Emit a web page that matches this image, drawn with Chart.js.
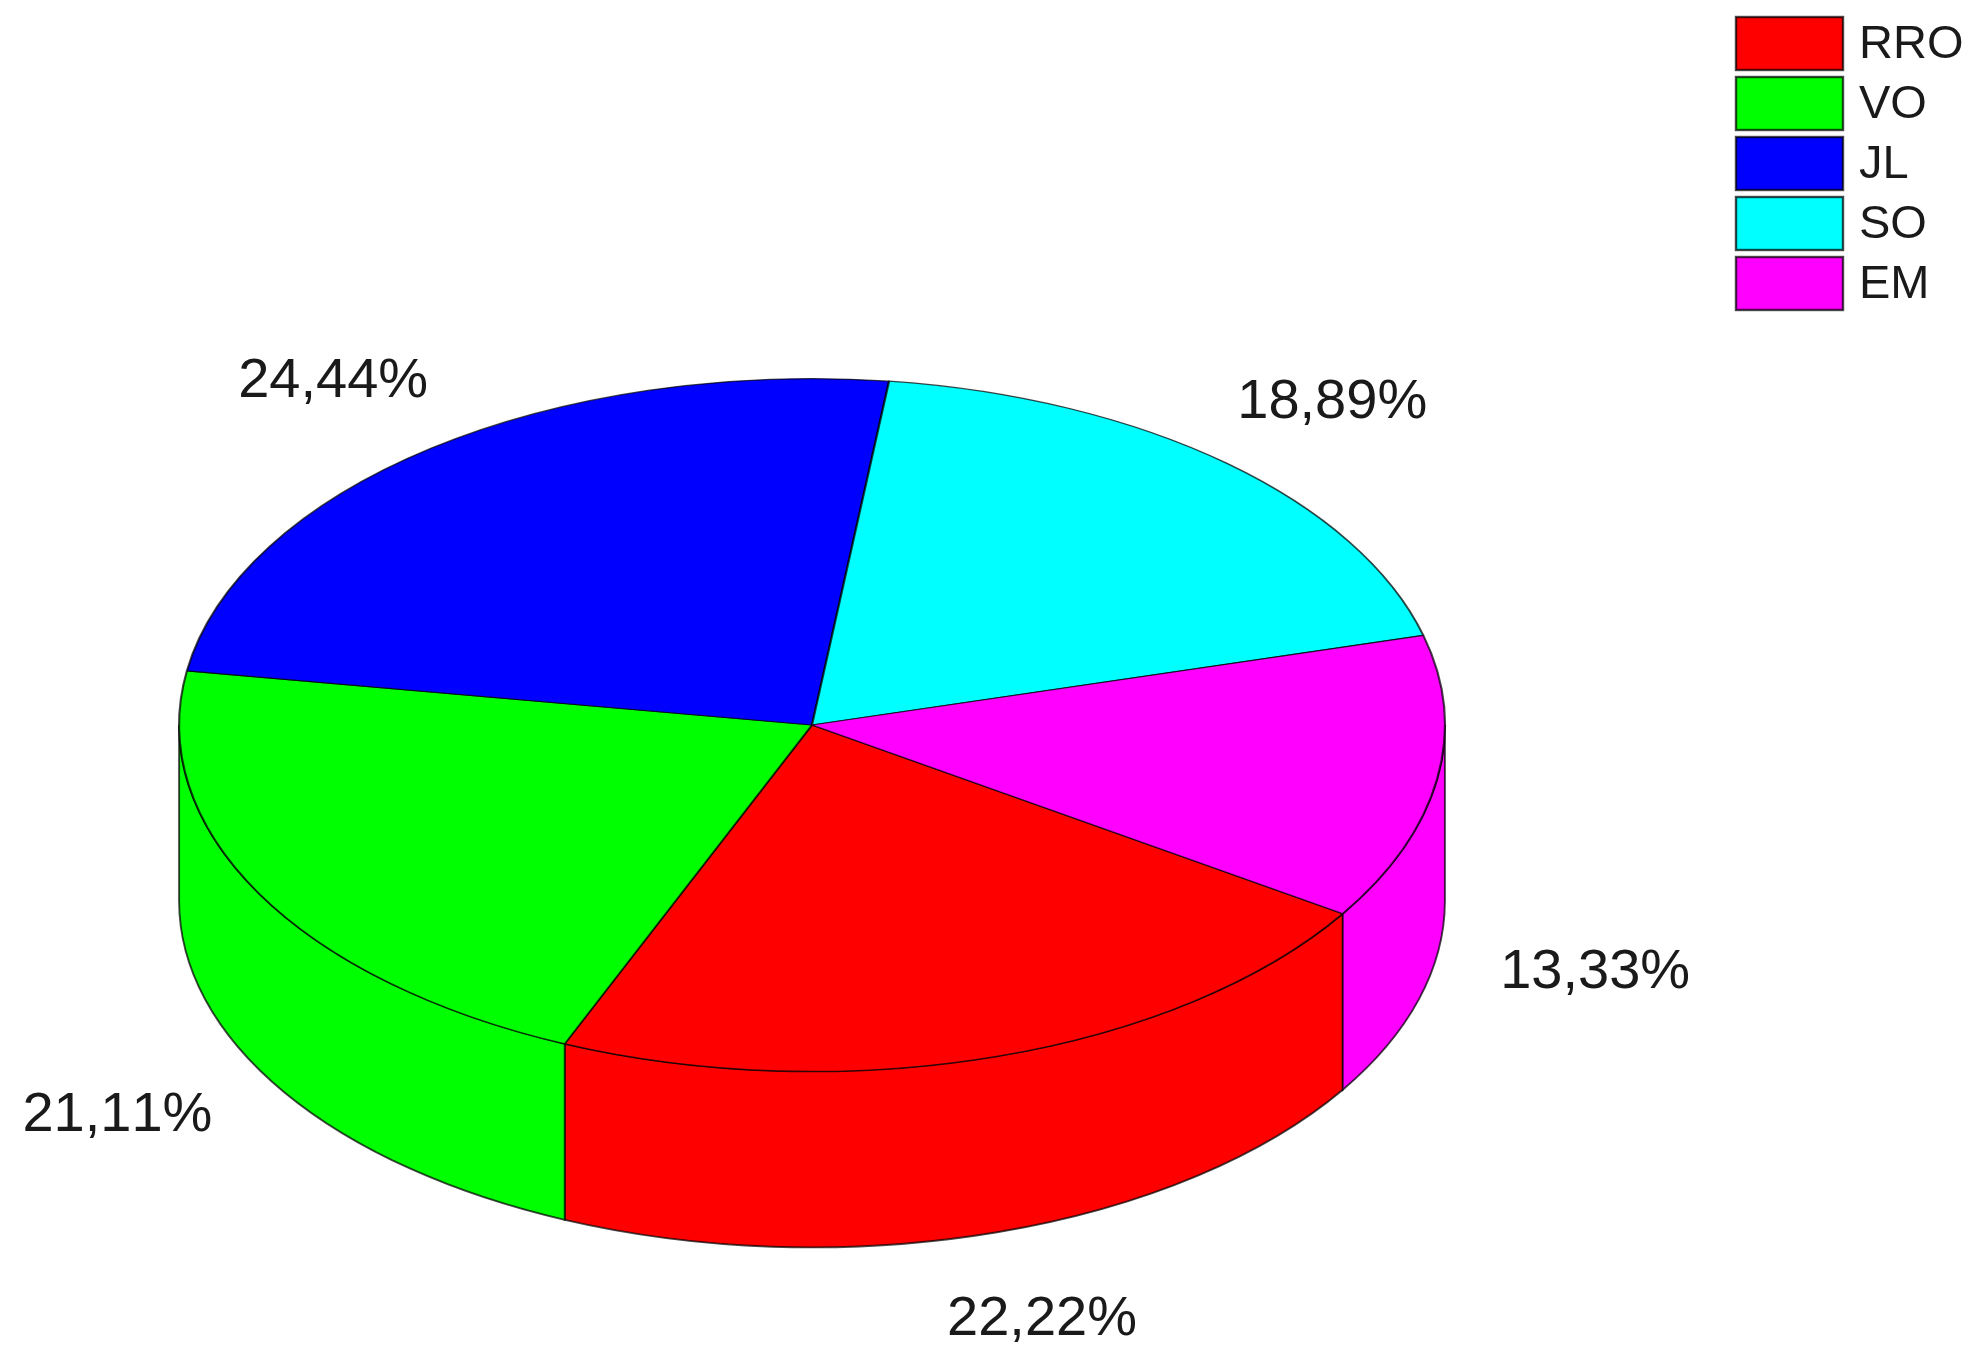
<!DOCTYPE html>
<html>
<head>
<meta charset="utf-8">
<style>
html,body{margin:0;padding:0;background:#fff;}
canvas{display:block;}
</style>
<script src="https://cdn.jsdelivr.net/npm/chart.js@4"></script>
</head>
<body>
<canvas id="c" width="1983" height="1362" style="width:1983px;height:1362px"></canvas>
<script>
const categories = ['RRO', 'VO', 'JL', 'SO', 'EM'];
const percentValues = [22.22, 21.11, 24.44, 18.89, 13.33];
const sliceColors = ['#ff0000', '#00ff00', '#0000ff', '#00ffff', '#ff00ff'];

const TILT = 347 / 634;
const DEPTH = 176;
const EDGE = 'rgba(0,0,0,0.72)';
const FONT = '"Liberation Sans", Arial, sans-serif';
const labelNudge = [[45, 263], [-141, 223], [-98, -67], [105, -61], [158, 193]];

const pie3d = {
  id: 'pie3d',
  beforeDatasetsDraw(chart) {
    const ctx = chart.ctx;
    const arcs = chart.getDatasetMeta(0).data;
    const { x: cx, y: cy, outerRadius: rx } = arcs[0];
    const ry = rx * TILT;
    ctx.save();
    ctx.lineWidth = 1.9;
    ctx.strokeStyle = EDGE;
    arcs.forEach((arc, i) => {
      [0, Math.PI * 2].forEach(base => {
        const a0 = Math.max(arc.startAngle, base);
        const a1 = Math.min(arc.endAngle, base + Math.PI);
        if (a1 <= a0) return;
        ctx.beginPath();
        ctx.ellipse(cx, cy + DEPTH, rx, ry, 0, a0, a1, false);
        ctx.ellipse(cx, cy, rx, ry, 0, a1, a0, true);
        ctx.closePath();
        ctx.fillStyle = sliceColors[i];
        ctx.fill();
        ctx.stroke();
      });
    });
    ctx.restore();
    // squash the library's own circular pie into the tilted top face
    ctx.save();
    ctx.translate(cx, cy);
    ctx.scale(1, TILT);
    ctx.translate(-cx, -cy);
  },
  afterDatasetsDraw(chart) {
    const ctx = chart.ctx;
    ctx.restore();
    const arcs = chart.getDatasetMeta(0).data;
    ctx.save();
    ctx.fillStyle = '#1a1a1a';
    ctx.textBaseline = 'middle';
    ctx.fontKerning = 'none';
    // value labels
    ctx.font = '56px ' + FONT;
    ctx.textAlign = 'center';
    arcs.forEach((arc, i) => {
      const mid = (arc.startAngle + arc.endAngle) / 2;
      const x = arc.x + arc.outerRadius * Math.cos(mid) + labelNudge[i][0];
      const y = arc.y + arc.outerRadius * TILT * Math.sin(mid) + labelNudge[i][1];
      ctx.fillText(percentValues[i].toFixed(2).replace('.', ',') + '%', x, y);
    });
    // legend
    ctx.font = '47px ' + FONT;
    ctx.textAlign = 'left';
    chart.data.labels.forEach((label, i) => {
      const top = 17 + i * 60;
      ctx.fillStyle = sliceColors[i];
      ctx.fillRect(1736, top, 107, 53);
      ctx.strokeStyle = EDGE;
      ctx.lineWidth = 2.4;
      ctx.strokeRect(1736, top, 107, 53);
      ctx.fillStyle = '#1a1a1a';
      ctx.fillText(label, 1859, top + 28);
    });
    ctx.restore();
  }
};

new Chart(document.getElementById('c'), {
  type: 'pie',
  data: {
    labels: categories,
    datasets: [{
      data: percentValues,
      backgroundColor: sliceColors,
      borderColor: EDGE,
      borderWidth: 2.2,
      clip: false
    }]
  },
  options: {
    responsive: false,
    animation: false,
    rotation: 123,
    events: [],
    layout: { padding: { left: 178, right: 537, top: 91, bottom: 3 } },
    plugins: { legend: { display: false }, tooltip: { enabled: false } }
  },
  plugins: [pie3d]
});
</script>
</body>
</html>
